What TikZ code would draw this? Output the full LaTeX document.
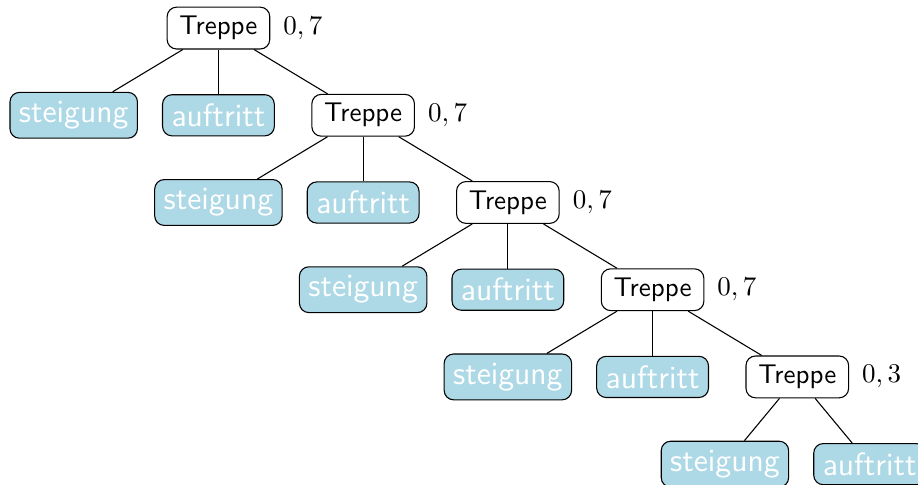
\documentclass[tikz,border=0pt]{standalone}
\usepackage{tikz}
\usetikzlibrary{positioning,shapes,arrows}
\definecolor{hellblau}{RGB}{173,216,230}

\begin{document}
\begin{tikzpicture}[
  on grid,
  mynodet/.style={draw,rounded corners=3.5pt,font=\sffamily,minimum width=38pt,fill=white},
  mynodeb/.style={draw,rounded corners=3.5pt,font=\sffamily\large,text=white,fill=hellblau},
  mywert/.style={label={[label distance=1.3pt]right:$#1$}},
 ]
\useasboundingbox (0,0) rectangle (340pt,179.3pt);

\node[mynodet, mywert={0,7}] (T1) at (80.9pt,168.9pt) {Treppe};
\node[mynodeb, below left=32.3pt and 53.6pt of T1] (S1) {steigung};
\node[mynodeb, below=32.3pt of T1] (A1) {auftritt};
\node[mynodet, below right=32.3pt and 53.6pt of T1, mywert={0,7}] (T2) {Treppe};

\node[mynodeb, below left=32.3pt and 53.6pt of T2] (S2) {steigung};
\node[mynodeb, below=32.3pt of T2] (A2) {auftritt};
\node[mynodet, below right=32.3pt and 53.6pt of T2, mywert={0,7}] (T3) {Treppe};

\node[mynodeb, below left=32.3pt and 53.6pt of T3] (S3) {steigung};
\node[mynodeb, below=32.3pt of T3] (A3) {auftritt};
\node[mynodet, below right=32.3pt and 53.6pt of T3, mywert={0,7}] (T4) {Treppe};

\node[mynodeb, below left=32.3pt and 53.6pt of T4] (S4) {steigung};
\node[mynodeb, below=32.3pt of T4] (A4) {auftritt};
\node[mynodet, below right=32.3pt and 53.6pt of T4, mywert={0,3}] (T5) {Treppe};

\node[mynodeb, below left=32.3pt and 26.8pt of T5] (S5) {steigung};
\node[mynodeb, below right=32.3pt and 26.8pt of T5] (A5) {auftritt};

\path
(T1) edge (S1)
(T1) edge (A1)
(T1) edge (T2)
(T2) edge (S2)
(T2) edge (A2)
(T2) edge (T3)
(T3) edge (S3)
(T3) edge (A3)
(T3) edge (T4)
(T4) edge (S4)
(T4) edge (A4)
(T4) edge (T5)
(T5) edge (S5)
(T5) edge (A5);

\end{tikzpicture}
\end{document}
